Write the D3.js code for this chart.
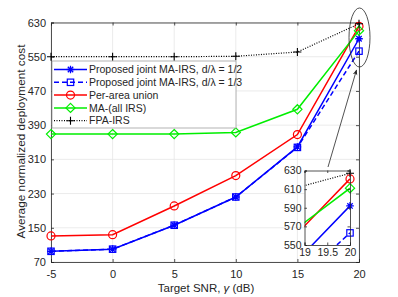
<!DOCTYPE html>
<html>
<head>
<meta charset="utf-8">
<script src="https://cdn.jsdelivr.net/npm/d3@7"></script>
<style>
  body { margin: 0; background: #fff; }
  text { font-family: "Liberation Sans", Arial, sans-serif; fill: #262626; }
</style>
</head>
<body>
<div id="graph"></div>
<script>
// chart data
var snr = [-5, 0, 5, 10, 15, 20];
var jointHalf = [95, 100, 156, 222, 339, 592];
var jointThird = [95, 100, 156, 222, 338, 563];
var perArea = [131, 134, 201, 272, 368, 621];
var maAll = [369, 369, 369, 373, 427, 611];
var fpa = [550, 550, 550, 551, 561, 627];
var yTicks = [70, 150, 230, 310, 390, 470, 550, 630];
var xTicks = [-5, 0, 5, 10, 15, 20];
var insetX = [19, 19.5, 20];
var insetY = [550, 570, 590, 610, 630];
var names = ['Proposed joint MA-IRS, d/\u03bb = 1/2', 'Proposed joint MA-IRS, d/\u03bb = 1/3',
  'Per-area union', 'MA-(all IRS)', 'FPA-IRS'];

var series = [
  { name: names[0], vals: jointHalf, color: '#0000ff', dash: null, mark: 'star' },
  { name: names[1], vals: jointThird, color: '#0000ff', dash: '5,3', mark: 'square' },
  { name: names[2], vals: perArea, color: '#ff0000', dash: null, mark: 'circle' },
  { name: names[3], vals: maAll, color: '#00ee00', dash: null, mark: 'diamond' },
  { name: names[4], vals: fpa, color: '#000000', dash: '1,1.5', mark: 'plus' }
];

var width = 398, height = 297;
var svg = d3.select('#graph').append('svg').attr('width', width).attr('height', height);

var x = d3.scaleLinear().domain([-5, 20]).range([51, 359]);
var y = d3.scaleLinear().domain([70, 630]).range([262, 22.5]);
var plain = function(d) { return String(d); };   // keep hyphen minus like matlab

// markers drawn as small paths
function marker(g, type, cx, cy, color) {
  if (type === 'circle') {
    g.append('circle').attr('cx', cx).attr('cy', cy).attr('r', 4)
      .attr('fill', 'none').attr('stroke', color).attr('stroke-width', 1.2);
  } else if (type === 'square') {
    g.append('rect').attr('x', cx - 3.2).attr('y', cy - 3.2).attr('width', 6.4).attr('height', 6.4)
      .attr('fill', 'none').attr('stroke', color).attr('stroke-width', 1.2);
  } else if (type === 'diamond') {
    g.append('path').attr('d', 'M' + cx + ',' + (cy - 4.6) + 'L' + (cx + 4.6) + ',' + cy + 'L' + cx + ',' + (cy + 4.6) + 'L' + (cx - 4.6) + ',' + cy + 'Z')
      .attr('fill', 'none').attr('stroke', color).attr('stroke-width', 1.2);
  } else if (type === 'plus') {
    g.append('path').attr('d', 'M' + (cx - 4) + ',' + cy + 'H' + (cx + 4) + 'M' + cx + ',' + (cy - 4) + 'V' + (cy + 4))
      .attr('stroke', color).attr('stroke-width', 1.1);
  } else if (type === 'star') {
    var r = 3.8, d = 2.7;
    g.append('path').attr('d', 'M' + (cx - r) + ',' + cy + 'H' + (cx + r) + 'M' + cx + ',' + (cy - r) + 'V' + (cy + r) +
      'M' + (cx - d) + ',' + (cy - d) + 'L' + (cx + d) + ',' + (cy + d) + 'M' + (cx - d) + ',' + (cy + d) + 'L' + (cx + d) + ',' + (cy - d))
      .attr('stroke', color).attr('stroke-width', 1.3);
  }
}

// grid
var grid = svg.append('g');
grid.selectAll('.gx').data(xTicks).enter().append('line')
  .attr('x1', function(d) { return x(d); }).attr('x2', function(d) { return x(d); })
  .attr('y1', y(70)).attr('y2', y(630)).attr('stroke', '#e6e6e6').attr('stroke-width', 0.8);
grid.selectAll('.gy').data(yTicks).enter().append('line')
  .attr('y1', function(d) { return y(d); }).attr('y2', function(d) { return y(d); })
  .attr('x1', x(-5)).attr('x2', x(20)).attr('stroke', '#e6e6e6').attr('stroke-width', 0.8);

// axes (inward ticks like matlab)
svg.append('g').attr('transform', 'translate(0,' + y(70) + ')')
  .call(d3.axisBottom(x).tickValues(xTicks).tickSize(-3).tickPadding(8).tickFormat(plain));
svg.append('g').attr('transform', 'translate(' + x(-5) + ',0)')
  .call(d3.axisLeft(y).tickValues(yTicks).tickSize(-3).tickPadding(5).tickFormat(plain));
svg.append('g').attr('transform', 'translate(0,' + y(630) + ')')
  .call(d3.axisTop(x).tickValues(xTicks).tickSize(-3).tickFormat(''));
svg.append('g').attr('transform', 'translate(' + x(20) + ',0)')
  .call(d3.axisRight(y).tickValues(yTicks).tickSize(-3).tickFormat(''));
svg.selectAll('.domain').attr('stroke', '#262626').attr('stroke-width', 0.8);
svg.selectAll('.tick line').attr('stroke', '#262626').attr('stroke-width', 0.8);
svg.selectAll('.tick text').style('font-size', '11px').style('font-family', '"Liberation Sans", Arial, sans-serif').attr('fill', '#262626');

// lines
var plot = svg.append('g');
series.forEach(function(s) {
  var line = d3.line().x(function(d, i) { return x(snr[i]); }).y(function(d) { return y(d); });
  plot.append('path').datum(s.vals).attr('d', line).attr('fill', 'none')
    .attr('stroke', s.color).attr('stroke-width', s.mark === 'plus' ? 1.2 : 1.5)
    .attr('stroke-dasharray', s.dash);
  s.vals.forEach(function(v, i) { marker(plot, s.mark, x(snr[i]), y(v), s.color); });
});

// legend
var lg = svg.append('g');
lg.append('rect').attr('x', 52).attr('y', 61).attr('width', 184).attr('height', 67)
  .attr('fill', '#fff').attr('stroke', '#a0a0a0').attr('stroke-width', 0.8);
series.forEach(function(s, i) {
  var ly = 69.5 + i * 12.8;
  lg.append('line').attr('x1', 54).attr('x2', 87).attr('y1', ly).attr('y2', ly)
    .attr('stroke', s.color).attr('stroke-width', s.mark === 'plus' ? 1.2 : 1.5).attr('stroke-dasharray', s.dash);
  marker(lg, s.mark, 70.5, ly, s.color);
  lg.append('text').attr('x', 89).attr('y', ly + 3.6).style('font-size', '10.5px').text(s.name);
});

// axis labels
svg.append('text').attr('x', 206).attr('y', 292).attr('text-anchor', 'middle')
  .style('font-size', '11.5px').html('Target SNR, <tspan font-style="italic">\u03b3</tspan> (dB)');
svg.append('text').attr('transform', 'translate(24.5,141.5) rotate(-90)').attr('text-anchor', 'middle')
  .style('font-size', '11.8px').text('Average normalized deployment cost');

// ellipse + arrow
svg.append('ellipse').attr('cx', 359.5).attr('cy', 37.5).attr('rx', 10.5).attr('ry', 29.5)
  .attr('fill', 'none').attr('stroke', '#262626').attr('stroke-width', 0.8);
svg.append('defs').append('marker').attr('id', 'ah').attr('viewBox', '0 0 10 10')
  .attr('refX', 9).attr('refY', 5).attr('markerWidth', 7).attr('markerHeight', 7).attr('orient', 'auto')
  .append('path').attr('d', 'M0,1L10,5L0,9L3,5Z').attr('fill', '#262626');
svg.append('line').attr('x1', 328).attr('y1', 167).attr('x2', 356.5).attr('y2', 70)
  .attr('stroke', '#262626').attr('stroke-width', 0.8).attr('marker-end', 'url(#ah)');

// inset
var ix = d3.scaleLinear().domain([19, 20]).range([304.5, 350]);
var iy = d3.scaleLinear().domain([550, 630]).range([245, 170.5]);
var inset = svg.append('g');
inset.append('rect').attr('x', 304.5).attr('y', 170.5).attr('width', 45.5).attr('height', 74.5).attr('fill', '#fff');
svg.append('clipPath').attr('id', 'ic').append('rect').attr('x', 304.5).attr('y', 170.5).attr('width', 45.5).attr('height', 74.5);
var ip = inset.append('g').attr('clip-path', 'url(#ic)');
series.forEach(function(s) {
  var line = d3.line().x(function(d, i) { return ix(snr[i]); }).y(function(d) { return iy(d); });
  ip.append('path').datum(s.vals).attr('d', line).attr('fill', 'none')
    .attr('stroke', s.color).attr('stroke-width', s.mark === 'plus' ? 1.2 : 1.5)
    .attr('stroke-dasharray', s.dash);
});
var im = inset.append('g');
series.forEach(function(s) {
  marker(im, s.mark, ix(20), iy(s.vals[5]), s.color);
});
inset.append('g').attr('transform', 'translate(0,245)')
  .call(d3.axisBottom(ix).tickValues(insetX).tickSize(-2.5).tickPadding(4).tickFormat(plain));
inset.append('g').attr('transform', 'translate(304.5,0)')
  .call(d3.axisLeft(iy).tickValues(insetY).tickSize(-2.5).tickPadding(3).tickFormat(plain));
inset.append('g').attr('transform', 'translate(0,170.5)')
  .call(d3.axisTop(ix).tickValues(insetX).tickSize(-2.5).tickFormat(''));
inset.append('g').attr('transform', 'translate(350,0)')
  .call(d3.axisRight(iy).tickValues(insetY).tickSize(-2.5).tickFormat(''));
inset.selectAll('.domain').attr('stroke', '#262626').attr('stroke-width', 0.8);
inset.selectAll('.tick line').attr('stroke', '#262626').attr('stroke-width', 0.8);
inset.selectAll('.tick text').style('font-size', '10.5px').style('font-family', '"Liberation Sans", Arial, sans-serif').attr('fill', '#262626');
</script>
</body>
</html>
